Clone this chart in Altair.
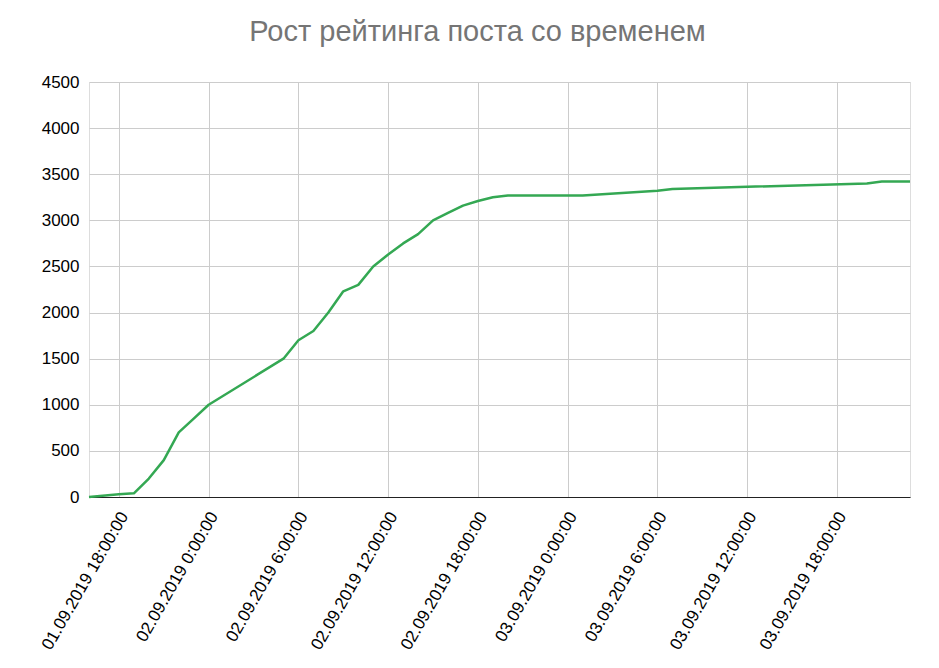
import altair as alt
import pandas as pd

times = [
    "2019-09-01T16:00", "2019-09-01T18:00", "2019-09-01T19:00", "2019-09-01T20:00",
    "2019-09-01T21:00", "2019-09-01T22:00", "2019-09-01T23:00", "2019-09-02T00:00",
    "2019-09-02T05:00", "2019-09-02T06:00", "2019-09-02T07:00", "2019-09-02T08:00",
    "2019-09-02T09:00", "2019-09-02T10:00", "2019-09-02T11:00", "2019-09-02T12:00",
    "2019-09-02T13:00", "2019-09-02T14:00", "2019-09-02T15:00", "2019-09-02T16:00",
    "2019-09-02T17:00", "2019-09-02T18:00", "2019-09-02T19:00", "2019-09-02T20:00",
    "2019-09-03T01:00", "2019-09-03T06:00", "2019-09-03T07:00", "2019-09-03T20:00",
    "2019-09-03T21:00", "2019-09-03T22:53",
]
rating = [
    0, 30, 40, 200,
    400, 700, 850, 1000,
    1500, 1700, 1800, 2000,
    2230, 2300, 2500, 2630,
    2750, 2850, 3000, 3080,
    3160, 3210, 3250, 3270,
    3270, 3320, 3340, 3400,
    3420, 3420,
]
tick_hours = [
    (1, 18), (2, 0), (2, 6), (2, 12), (2, 18), (3, 0), (3, 6), (3, 12), (3, 18),
]
y_ticks = [0, 500, 1000, 1500, 2000, 2500, 3000, 3500, 4000, 4500]

df = pd.DataFrame({"t": times, "v": rating})

x_values = [alt.DateTime(year=2019, month=9, date=d, hours=h) for d, h in tick_hours]

chart = (
    alt.Chart(df)
    .mark_line(color="#34a853", strokeWidth=2.5, strokeJoin="round")
    .encode(
        x=alt.X(
            "t:T",
            title=None,
            scale=alt.Scale(nice=False, padding=0),
            axis=alt.Axis(
                values=x_values,
                format="%d.%m.%Y %-H:%M:%S",
                labelAngle=300,
                labelAlign="right",
                labelBaseline="middle",
                labelPadding=16,
                labelOffset=5,
                labelFont="Liberation Sans",
                labelFontSize=17,
                labelColor="#000000",
                ticks=False,
                domain=True,
                domainColor="#222222",
                domainWidth=1,
                grid=True,
                gridColor="#cccccc",
                gridWidth=1,
                labelOverlap=False,
            ),
        ),
        y=alt.Y(
            "v:Q",
            title=None,
            scale=alt.Scale(domain=[0, 4500], nice=False),
            axis=alt.Axis(
                values=y_ticks,
                format="d",
                labelFont="Liberation Sans",
                labelFontSize=17,
                labelColor="#000000",
                labelPadding=10,
                ticks=False,
                domain=False,
                grid=True,
                gridColor="#cccccc",
                gridWidth=1,
            ),
        ),
    )
    .properties(
        width=821,
        height=415,
        autosize=alt.AutoSizeParams(type="none"),
        padding={"left": 81, "top": 74, "right": 21, "bottom": 163},
        title=alt.TitleParams(
            "Рост рейтинга поста со временем",
            font="Liberation Sans",
            fontSize=29,
            fontWeight="normal",
            color="#757575",
            anchor="middle",
            baseline="alphabetic",
            offset=3,
            dx=-22,
        ),
    )
    .configure_view(stroke=None)
    .configure(background="white")
)

chart.save("out.html", embed_options={"renderer": "svg", "actions": False})
